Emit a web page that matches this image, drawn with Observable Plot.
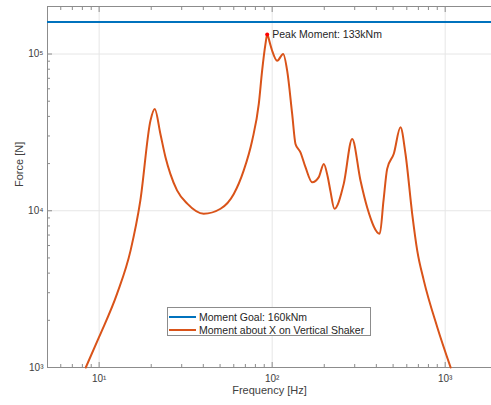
<!DOCTYPE html>
<html><head><meta charset="utf-8">
<script src="https://cdn.jsdelivr.net/npm/d3@7"></script>
<script src="https://cdn.jsdelivr.net/npm/@observablehq/plot@0.6"></script>
<style>
body{margin:0;background:#fff;font-family:"Liberation Sans",Arial,Helvetica,sans-serif;}
#wrap{position:relative;width:491px;height:405px;overflow:hidden;}
#legend{position:absolute;left:167px;top:307px;width:204px;height:29px;border:1px solid #8c8c8c;background:#fff;font-size:10.5px;color:#262626;box-sizing:border-box;}
.row{position:absolute;left:1px;height:13px;display:flex;align-items:center;white-space:nowrap;}
.sw{width:27px;height:2px;margin-right:3px;}
</style>
</head><body>
<div id="wrap"></div>
<script>
// Data
const freq = [8.37, 10, 12.7, 15.2, 17.3, 19.8, 20.96, 22.6, 24.2, 25.8, 28.2, 32.3, 40.2, 50.3, 60.0, 68.5, 76.6, 83.7, 87.5, 91.5, 93.6, 96.8, 100, 106.9, 115.8, 122.1, 130.5, 136.4, 145.7, 155.8, 170.3, 186.0, 198.8, 209.6, 217, 229, 259.4, 290, 323.9, 354.1, 418.8, 440, 462, 504.6, 551.5, 589.5, 644.6, 689, 752, 899, 1075];
const moment = [1000, 1567, 2960, 5590, 11600, 37600, 44600, 30900, 21900, 17200, 13500, 11100, 9570, 10300, 12800, 18100, 28000, 48000, 78300, 116000, 133000, 118600, 105000, 90600, 100000, 78300, 41500, 26700, 23600, 18960, 15200, 16400, 19900, 16400, 13400, 10300, 14900, 28700, 15600, 10500, 7140, 11600, 18500, 23100, 34100, 23100, 9570, 5590, 3597, 1814, 1000];
const goal = 160000;
const peakFreq = [93.6];
const peakValue = [133000];
const peakLabel = ["Peak Moment: 133kNm"];
const seriesNames = ["Moment Goal: 160kNm", "Moment about X on Vertical Shaker"];
const seriesColors = ["#0072BD", "#D95319"];
const xMajor = [10, 100, 1000];
const xMinor = [6,7,8,9,20,30,40,50,60,70,80,90,200,300,400,500,600,700,800,900];
const yMajor = [1e3, 1e4, 1e5];
const yMinor = [2e3,3e3,4e3,5e3,6e3,7e3,8e3,9e3,2e4,3e4,4e4,5e4,6e4,7e4,8e4,9e4];
const xLabel = "Frequency [Hz]";
const yLabel = "Force [N]";

const sup = {"1":"\u00B9","2":"\u00B2","3":"\u00B3","4":"\u2074","5":"\u2075"};
const fmt = d => "10" + sup[String(Math.round(Math.log10(d)))];
const data = freq.map((f, i) => ({f, m: moment[i]}));
const axCol = "#8c8c8c";
const txtCol = "#404040";

const chart = Plot.plot({
  width: 491, height: 405,
  marginLeft: 47, marginRight: 0, marginTop: 6, marginBottom: 38,
  x: {type: "log", domain: [5.03, 1852]},
  y: {type: "log", domain: [1000, 201000]},
  style: {fontFamily: "'Liberation Sans', Arial, sans-serif", fontSize: "10px", color: txtCol, background: "#fff"},
  marks: [
    Plot.gridX(xMajor, {stroke: "#e6e6e6", strokeOpacity: 1}),
    Plot.gridY(yMajor, {stroke: "#e6e6e6", strokeOpacity: 1}),
    Plot.axisX(xMinor, {anchor: "bottom", tickSize: -3, tickFormat: () => "", label: null, stroke: axCol}),
    Plot.axisX(xMinor, {anchor: "top", tickSize: -3, tickFormat: () => "", label: null, stroke: axCol}),
    Plot.axisX(xMajor, {anchor: "bottom", tickSize: -5, tickFormat: () => "", label: null, stroke: axCol}),
    Plot.axisX(xMajor, {anchor: "top", tickSize: -5, tickFormat: () => "", label: null, stroke: axCol}),
    Plot.axisX(xMajor, {anchor: "bottom", tickSize: 0, tickPadding: 7, tickFormat: fmt, label: null, fill: txtCol, fontSize: 10}),
    Plot.axisY(yMinor, {anchor: "left", tickSize: -3, tickFormat: () => "", label: null, stroke: axCol}),
    Plot.axisY(yMajor, {anchor: "left", tickSize: -5, tickFormat: () => "", label: null, stroke: axCol}),
    Plot.axisY(yMajor, {anchor: "left", tickSize: 0, tickPadding: 4, tickFormat: fmt, label: null, fill: txtCol, fontSize: 10}),
    Plot.frame({stroke: axCol}),
    Plot.ruleY([goal], {stroke: seriesColors[0], strokeWidth: 2}),
    Plot.line(data, {x: "f", y: "m", stroke: seriesColors[1], strokeWidth: 2, curve: "monotone-x"}),
    Plot.dot(peakFreq.map((f, i) => ({f, m: peakValue[i]})), {x: "f", y: "m", r: 2, fill: "#ff0000", stroke: null}),
    Plot.text(peakFreq.map((f, i) => ({f, m: peakValue[i], t: peakLabel[i]})), {x: "f", y: "m", text: "t", textAnchor: "start", dx: 5, fontSize: 10.5, fill: "#262626"}),
    Plot.text([xLabel], {frameAnchor: "bottom", dy: 26, fontSize: 11, fill: txtCol}),
    Plot.text([yLabel], {frameAnchor: "left", dx: -28, rotate: -90, fontSize: 11, fill: txtCol})
  ]
});
const wrap = document.getElementById("wrap");
wrap.appendChild(chart);
const leg = document.createElement("div");
leg.id = "legend";
seriesNames.forEach((n, i) => {
  const r = document.createElement("div");
  r.className = "row";
  r.style.top = (2 + i * 13.6) + "px";
  r.innerHTML = `<span class="sw" style="background:${seriesColors[i]}"></span><span>${n}</span>`;
  leg.appendChild(r);
});
wrap.appendChild(leg);
</script>
</body></html>
